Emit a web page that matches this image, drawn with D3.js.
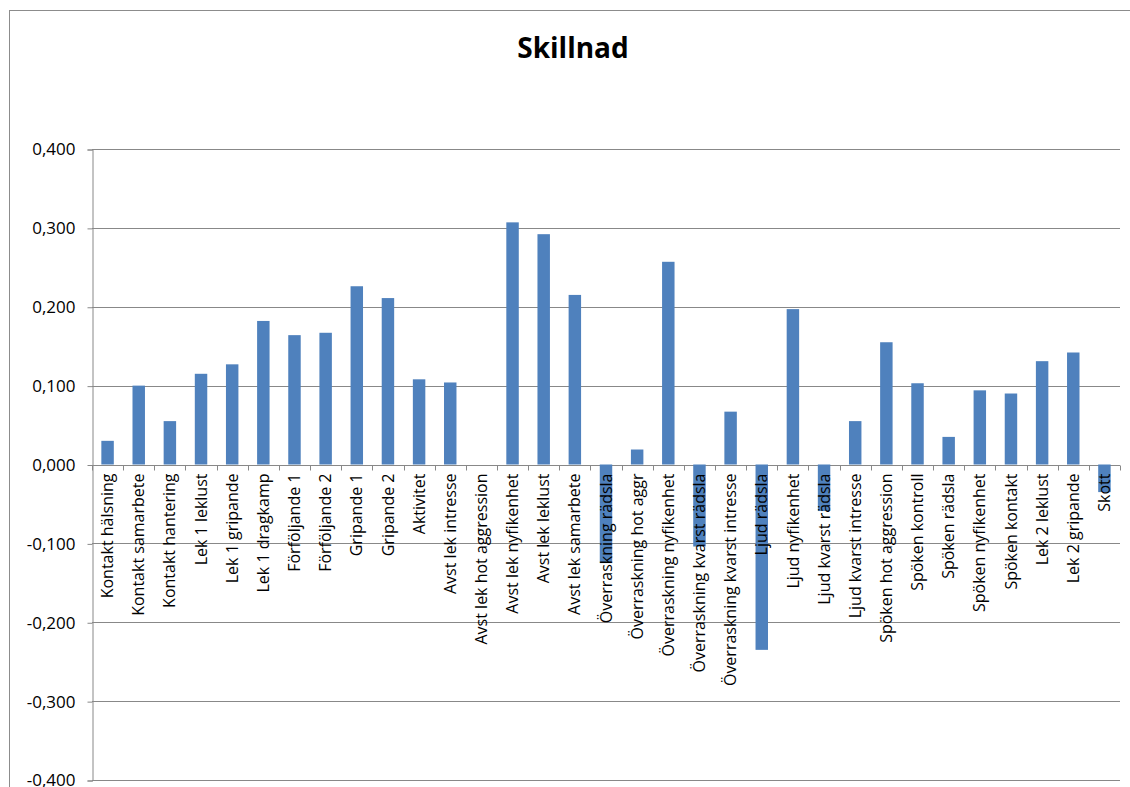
<!DOCTYPE html>
<html>
<head>
<meta charset="utf-8">
<script src="https://cdn.jsdelivr.net/npm/d3@7"></script>
<style>
body { margin: 0; background: #fff; }
text { font-family: "Open Sans", sans-serif; fill: #000; }
</style>
</head>
<body>
<script>
categories = ["Kontakt hälsning", "Kontakt samarbete", "Kontakt hantering", "Lek 1 leklust",
        "Lek 1 gripande", "Lek 1 dragkamp", "Förföljande 1", "Förföljande 2", "Gripande 1",
        "Gripande 2", "Aktivitet", "Avst lek intresse", "Avst lek hot aggression",
        "Avst lek nyfikenhet", "Avst lek leklust", "Avst lek samarbete", "Överraskning rädsla",
        "Överraskning hot aggr", "Överraskning nyfikenhet", "Överraskning kvarst rädsla",
        "Överraskning kvarst intresse", "Ljud rädsla", "Ljud nyfikenhet", "Ljud kvarst rädsla",
        "Ljud kvarst intresse", "Spöken hot aggression", "Spöken kontroll", "Spöken rädsla",
        "Spöken nyfikenhet", "Spöken kontakt", "Lek 2 leklust", "Lek 2 gripande", "Skott"]

values = [0.030, 0.100, 0.055, 0.115, 0.127, 0.182, 0.164, 0.167, 0.226, 0.211, 0.108, 0.104,
        0.000, 0.307, 0.292, 0.215, -0.125, 0.019, 0.257, -0.104, 0.067, -0.235, 0.197, -0.059,
        0.055, 0.155, 0.103, 0.035, 0.094, 0.090, 0.131, 0.142, -0.035]

yTicks = [-0.4, -0.3, -0.2, -0.1, 0, 0.1, 0.2, 0.3, 0.4]

title = "Skillnad"

var W = 1130, H = 787
var plotLeft = 92, plotRight = 1120, plotTop = 149, plotBottom = 780

var locale = d3.formatLocale({decimal: ",", thousands: " ", grouping: [3], currency: ["", ""], minus: "-"})
var fmt = locale.format(".3f")

var svg = d3.select("body").append("svg")
        .attr("width", W)
        .attr("height", H)

// chart area border (continues past the right and bottom edge)
svg.append("rect")
        .attr("x", 9.5).attr("y", 10.5)
        .attr("width", W + 20).attr("height", H + 20)
        .attr("fill", "none")
        .attr("stroke", "#8c8c8c")

svg.append("text")
        .attr("x", 573).attr("y", 58)
        .attr("text-anchor", "middle")
        .style("font-weight", "bold")
        .style("font-size", "28px")
        .text(title)

var x = d3.scaleBand().domain(categories).range([plotLeft, plotRight]).padding(0)
var y = d3.scaleLinear().domain([-0.4, 0.4]).range([plotBottom, plotTop])

// gridlines
svg.append("g").selectAll("line").data(yTicks)
        .enter().append("line")
        .attr("x1", plotLeft).attr("x2", plotRight)
        .attr("y1", function(d) { return Math.round(y(d)) + 0.5 })
        .attr("y2", function(d) { return Math.round(y(d)) + 0.5 })
        .attr("stroke", "#888")

// y axis
var yAxis = svg.append("g")
        .attr("transform", "translate(" + (plotLeft + 0.5) + ",0.5)")
        .call(d3.axisLeft(y).tickValues(yTicks).tickFormat(fmt).tickSize(5).tickPadding(12))
yAxis.selectAll("path, line").attr("stroke", "#888")
yAxis.selectAll("text").style("font-size", "17px").style("font-family", "'Open Sans', sans-serif")

// bars
var bw = x.bandwidth() / 2.5
svg.append("g").selectAll("rect").data(values)
        .enter().append("rect")
        .attr("x", function(d, i) { return x(categories[i]) + (x.bandwidth() - bw) / 2 })
        .attr("y", function(d) { return y(Math.max(0, d)) })
        .attr("width", bw)
        .attr("height", function(d) { return Math.abs(y(d) - y(0)) })
        .attr("fill", "#4f81bd")

// category axis at zero
var y0 = Math.round(y(0)) + 0.5
var bounds = categories.map(function(c) { return x(c) }).concat([plotRight])
svg.append("g").selectAll("line").data(bounds)
        .enter().append("line")
        .attr("x1", function(d) { return Math.round(d) + 0.5 })
        .attr("x2", function(d) { return Math.round(d) + 0.5 })
        .attr("y1", y0).attr("y2", y0 + 5)
        .attr("stroke", "#888")

svg.append("g").selectAll("text").data(categories)
        .enter().append("text")
        .attr("transform", function(d) {
                return "translate(" + (x(d) + x.bandwidth() / 2) + "," + (y0 + 8) + ") rotate(-90)"
        })
        .attr("text-anchor", "end")
        .attr("dy", "0.35em")
        .style("font-size", "16px")
        .text(function(d) { return d })
</script>
</body>
</html>
